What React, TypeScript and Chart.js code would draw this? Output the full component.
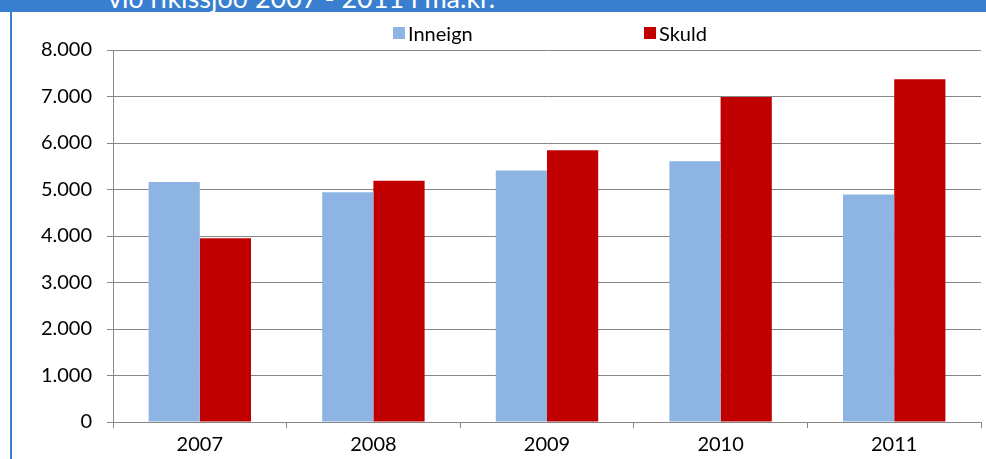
import React, { useEffect, useRef } from "react";
import { Chart, registerables } from "chart.js";

Chart.register(...registerables);

const categories = ["2007", "2008", "2009", "2010", "2011"];
const inneign = [5160, 4940, 5410, 5610, 4890];
const skuld = [3950, 5190, 5845, 6990, 7370];
const seriesNames = ["Inneign", "Skuld"];
const seriesColors = ["#8EB4E3", "#C00000"];
const yMin = 0;
const yMax = 8000;
const yStep = 1000;
const headerText = "við ríkissjóð 2007 - 2011 í ma.kr.";

const FONT = "Lato, 'Open Sans', sans-serif";
const GRID = "#868686";
const FS = 20;

function fmt(v: number): string {
  return String(v).replace(/\B(?=(\d{3})+(?!\d))/g, ".");
}

export default function App() {
  const ref = useRef<HTMLCanvasElement | null>(null);

  useEffect(() => {
    if (!ref.current) return;
    const chart = new Chart(ref.current, {
      type: "bar",
      data: {
        labels: categories,
        datasets: [
          {
            label: seriesNames[0],
            data: inneign,
            backgroundColor: seriesColors[0],
            borderWidth: 0,
            categoryPercentage: 0.59,
            barPercentage: 1,
          },
          {
            label: seriesNames[1],
            data: skuld,
            backgroundColor: seriesColors[1],
            borderWidth: 0,
            categoryPercentage: 0.59,
            barPercentage: 1,
          },
        ],
      },
      options: {
        animation: false,
        responsive: false,
        maintainAspectRatio: false,
        layout: { padding: { top: 38, right: 5, left: 0, bottom: 0 } },
        plugins: {
          legend: { display: false },
          tooltip: { enabled: false },
          title: { display: false },
        },
        scales: {
          x: {
            offset: true,
            grid: {
              display: true,
              offset: true,
              drawOnChartArea: false,
              drawTicks: true,
              tickLength: 6,
              color: GRID,
              lineWidth: 1,
            },
            border: { display: true, color: GRID, width: 1 },
            ticks: {
              color: "#000",
              font: { family: FONT, size: FS },
              padding: 5,
              maxRotation: 0,
            },
            afterFit: (scale: any) => {
              scale.height = 37;
            },
          },
          y: {
            min: yMin,
            max: yMax,
            grid: {
              display: true,
              drawTicks: true,
              tickLength: 6,
              color: GRID,
              lineWidth: 1,
            },
            border: { display: true, color: GRID, width: 1 },
            ticks: {
              stepSize: yStep,
              color: "#000",
              font: { family: FONT, size: FS },
              padding: 15,
              callback: (v: any) => fmt(Number(v)),
            },
            afterFit: (scale: any) => {
              scale.width = 101;
            },
          },
        },
      },
    });
    return () => chart.destroy();
  }, []);

  const legendLefts = [393, 644];

  return (
    <div
      style={{
        position: "fixed",
        left: 0,
        top: 0,
        width: 986,
        height: 459,
        background: "#fff",
        overflow: "hidden",
        fontFamily: FONT,
      }}
    >
      <div
        style={{
          position: "absolute",
          left: 0,
          top: 0,
          width: 986,
          height: 12,
          background: "#3A7FCF",
          overflow: "hidden",
        }}
      >
        <span
          style={{
            position: "absolute",
            left: 108,
            top: -16,
            fontSize: 27,
            lineHeight: "27px",
            color: "#fff",
            whiteSpace: "nowrap",
            fontFamily: FONT,
          }}
        >
          {headerText}
        </span>
      </div>
      <div
        style={{
          position: "absolute",
          left: 10,
          top: 12,
          width: 2,
          height: 447,
          background: "#3A7FCF",
        }}
      />
      <canvas
        ref={ref}
        width={974}
        height={447}
        style={{ position: "absolute", left: 12, top: 12, width: 974, height: 447 }}
      />
      {seriesNames.map((name, i) => (
        <div
          key={name}
          style={{
            position: "absolute",
            left: legendLefts[i],
            top: 22,
            display: "flex",
            alignItems: "center",
            fontSize: FS,
            lineHeight: "22px",
            color: "#000",
            whiteSpace: "nowrap",
          }}
        >
          <span
            style={{
              display: "inline-block",
              width: 12,
              height: 12,
              background: seriesColors[i],
              marginRight: 3,
            }}
          />
          <span>{name}</span>
        </div>
      ))}
    </div>
  );
}
